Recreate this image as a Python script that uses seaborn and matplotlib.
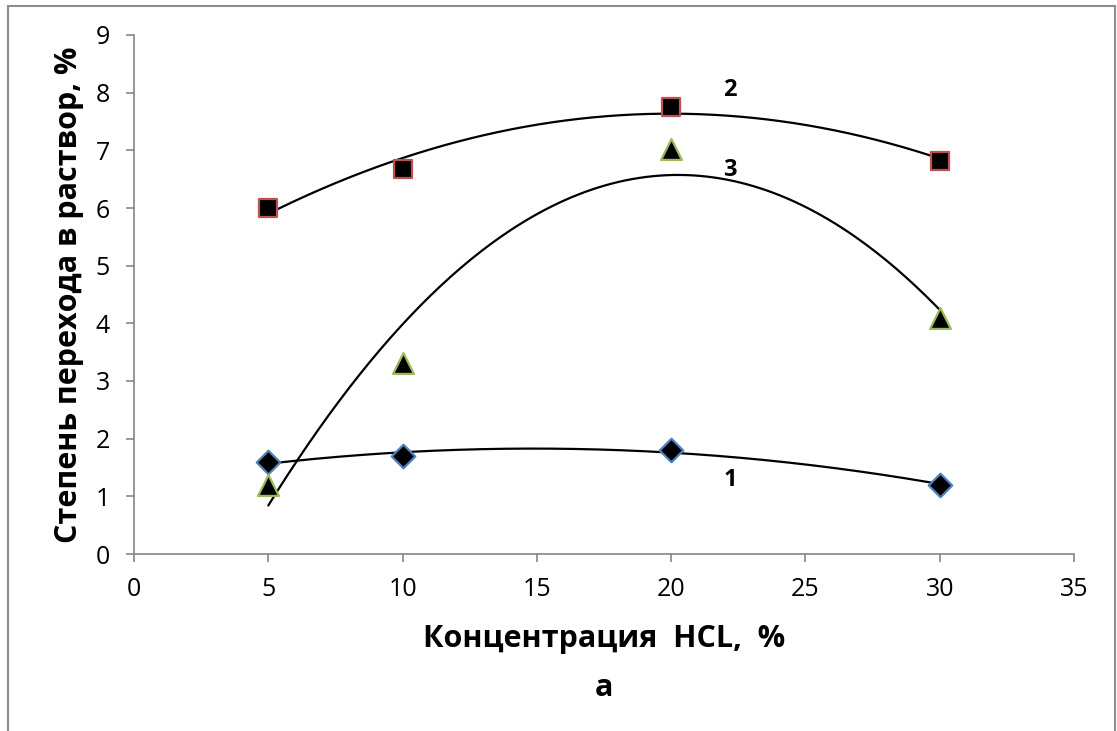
import numpy as np
import pandas as pd
import matplotlib
matplotlib.use("Agg")
import matplotlib.pyplot as plt
from matplotlib.patches import Rectangle
import seaborn as sns

# Concentration of HCl, %
conc = [5, 10, 20, 30]
# Degree of transition into solution, % (series 1, 2, 3)
series1 = [1.60, 1.70, 1.80, 1.20]
series2 = [6.00, 6.68, 7.76, 6.82]
series3 = [1.20, 3.31, 7.02, 4.10]
series_names = ["1", "2", "3"]
x_ticks = [0, 5, 10, 15, 20, 25, 30, 35]
y_ticks = [0, 1, 2, 3, 4, 5, 6, 7, 8, 9]
# curve labels: text, x, y
label_pos = {"1": (22.2, 1.28), "2": (22.2, 8.05), "3": (22.2, 6.66)}

sns.set_theme(style="white")
plt.rcParams["font.family"] = ["Open Sans", "DejaVu Sans"]

fig = plt.figure(figsize=(11.17, 7.31), dpi=100)
ax = fig.add_axes([134 / 1117, 1 - 554 / 731, (1074 - 134) / 1117, (554 - 35) / 731])

styles = [
    (series1, "D", "#4F81BD", 12.0),
    (series2, "s", "#C0504D", 13.0),
    (series3, "^", "#9BBB59", 15.0),
]

xfit = np.linspace(min(conc), max(conc), 200)
for (vals, mk, ec, ms), name in zip(styles, series_names):
    coef = np.polyfit(conc, vals, 2)
    trend = pd.DataFrame({"x": xfit, "y": np.polyval(coef, xfit)})
    sns.lineplot(data=trend, x="x", y="y", ax=ax, color="black", lw=1.6,
                 zorder=2, legend=False)
for (vals, mk, ec, ms), name in zip(styles, series_names):
    pts = pd.DataFrame({"x": conc, "y": vals})
    sns.scatterplot(data=pts, x="x", y="y", ax=ax, marker=mk, s=ms ** 2,
                    color="black", edgecolor=ec, linewidth=1.6, zorder=3,
                    legend=False)

for name, (tx, ty) in label_pos.items():
    ax.text(tx, ty, name, ha="center", va="center", fontsize=17,
            fontweight="bold", color="black", zorder=4)

ax.set_xlim(0, 35)
ax.set_ylim(0, 9)
ax.set_xticks(x_ticks)
ax.set_yticks(y_ticks)
ax.set_xticklabels([str(v) for v in x_ticks])
ax.set_yticklabels([str(v) for v in y_ticks])

spine_c = "#868686"
for side in ["top", "right"]:
    ax.spines[side].set_visible(False)
for side in ["left", "bottom"]:
    ax.spines[side].set_color(spine_c)
    ax.spines[side].set_linewidth(1.2)
ax.tick_params(axis="both", which="major", direction="out", length=5.5,
               width=1.2, color=spine_c, labelsize=18, labelcolor="black",
               bottom=True, left=True)
ax.tick_params(axis="x", pad=11)
ax.tick_params(axis="y", pad=12)
ax.grid(False)

ax.set_xlabel("Концентрация  HCL,  %", fontsize=22, fontweight="bold",
              labelpad=16, color="black")
ax.set_ylabel("Степень перехода в раствор, %", fontsize=22, fontweight="bold",
              labelpad=8, color="black")
fig.text(604 / 1117, 1 - 688 / 731, "а", ha="center", va="center",
         fontsize=22, fontweight="bold", color="black")

# outer frame of the chart area
fig.patches.append(Rectangle((8 / 1117, -0.02), (1115 - 8) / 1117, 1.02 - 6 / 731,
                             transform=fig.transFigure, fill=False,
                             edgecolor="#8c8c8c", linewidth=1.5))

fig.savefig("out.png", dpi=100, facecolor="white")
